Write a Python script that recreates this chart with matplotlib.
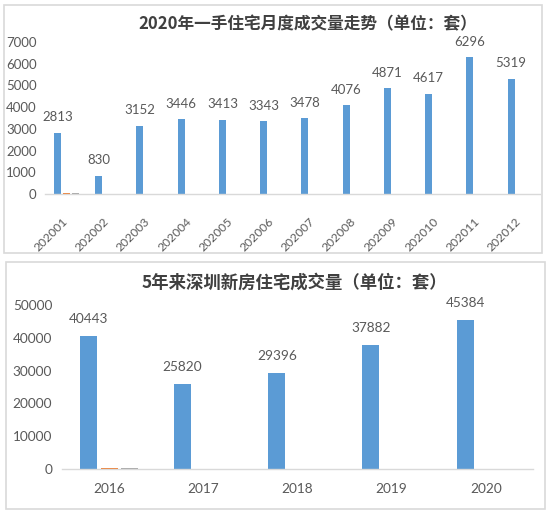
import matplotlib
matplotlib.use("Agg")
import matplotlib.pyplot as plt
from matplotlib.patches import Rectangle
from matplotlib.transforms import ScaledTranslation
import numpy as np

# ---- data ----
months = ["202001", "202002", "202003", "202004", "202005", "202006",
          "202007", "202008", "202009", "202010", "202011", "202012"]
monthly_main = [2813, 830, 3152, 3446, 3413, 3343, 3478, 4076, 4871, 4617, 6296, 5319]
monthly_s2 = [60, 0, 0, 0, 0, 0, 0, 0, 0, 0, 0, 0]
monthly_s3 = [60, 0, 0, 0, 0, 0, 0, 0, 0, 0, 0, 0]
monthly_yticks = [0, 1000, 2000, 3000, 4000, 5000, 6000, 7000]

years = ["2016", "2017", "2018", "2019", "2020"]
yearly_main = [40443, 25820, 29396, 37882, 45384]
yearly_s2 = [450, 0, 0, 0, 0]
yearly_s3 = [400, 0, 0, 0, 0]
yearly_yticks = [0, 10000, 20000, 30000, 40000, 50000]

title1 = "2020年一手住宅月度成交量走势（单位：套）"
title2 = "5年来深圳新房住宅成交量（单位：套）"

BLUE = "#5B9BD5"
ORANGE = "#ED7D31"
GRAY = "#A5A5A5"
TXT = "#595959"
TITLE_C = "#404040"
LINE = "#D9D9D9"

W, H = 550, 529
fig = plt.figure(figsize=(W / 100, H / 100), dpi=100)
fig.patch.set_facecolor("white")

NUM_FONT = ["Lato", "DejaVu Sans"]
CJK_FONT = ["Noto Sans CJK SC", "DejaVu Sans"]


def px_axes(l, t, r, b):
    return fig.add_axes([l / W, 1 - b / H, (r - l) / W, (b - t) / H])


def panel(l, t, r, b):
    fig.patches.append(Rectangle((l / W, 1 - b / H), (r - l) / W, (b - t) / H,
                                 transform=fig.transFigure, fill=False,
                                 edgecolor=LINE, lw=1.2, zorder=0))


def style(ax):
    for s in ["top", "right", "left"]:
        ax.spines[s].set_visible(False)
    ax.spines["bottom"].set_color(LINE)
    ax.spines["bottom"].set_linewidth(1)
    ax.tick_params(length=0, colors=TXT)
    ax.set_facecolor("none")


# ---- panel 1 ----
panel(4, 5, 542, 253)
ax1 = px_axes(45, 42, 540, 194)
x1 = np.arange(len(months))
bw1 = 0.17
ax1.bar(x1 - 0.2, monthly_main, bw1, color=BLUE)
ax1.bar(x1 + 0.02, monthly_s2, bw1, color=ORANGE)
ax1.bar(x1 + 0.24, monthly_s3, bw1, color=GRAY)
ax1.set_xlim(-0.5, len(months) - 0.5)
ax1.set_ylim(0, 7000)
ax1.set_yticks(monthly_yticks)
ax1.set_yticklabels([str(v) for v in monthly_yticks], fontsize=9.5, family=NUM_FONT, color=TXT)
ax1.tick_params(axis="y", pad=6)
ax1.set_xticks(x1)
ax1.set_xticklabels(months, rotation=45, ha="right", va="center", rotation_mode="anchor",
                    fontsize=8.7, family=NUM_FONT, color=TXT)
ax1.tick_params(axis="x", pad=18.5)
for lab in ax1.get_xticklabels():
    lab.set_transform(lab.get_transform() + ScaledTranslation(6 / 100, 0, fig.dpi_scale_trans))
style(ax1)
for xi, v in zip(x1, monthly_main):
    ax1.annotate(str(v), xy=(xi - 0.2, v), xytext=(0, 11.2), textcoords="offset points",
                 ha="center", va="center", fontsize=9.5, family=NUM_FONT, color=TXT)
fig.text(308 / W, 1 - 24 / H, title1, ha="center", va="center", fontsize=12,
         fontweight="bold", family=CJK_FONT, color=TITLE_C)

# ---- panel 2 ----
panel(6, 262, 545, 509)
ax2 = px_axes(62, 305, 533, 469)
x2 = np.arange(len(years))
bw2 = 0.18
ax2.bar(x2 - 0.22, yearly_main, bw2, color=BLUE)
ax2.bar(x2, yearly_s2, bw2, color=ORANGE)
ax2.bar(x2 + 0.22, yearly_s3, bw2, color=GRAY)
ax2.set_xlim(-0.5, len(years) - 0.5)
ax2.set_ylim(0, 50000)
ax2.set_yticks(yearly_yticks)
ax2.set_yticklabels([str(v) for v in yearly_yticks], fontsize=9.8, family=NUM_FONT, color=TXT)
ax2.tick_params(axis="y", pad=7)
ax2.set_xticks(x2)
ax2.set_xticklabels(years, fontsize=9.8, family=NUM_FONT, color=TXT)
ax2.tick_params(axis="x", pad=10)
style(ax2)
for xi, v in zip(x2, yearly_main):
    ax2.annotate(str(v), xy=(xi - 0.22, v), xytext=(0, 12.2), textcoords="offset points",
                 ha="center", va="center", fontsize=9.8, family=NUM_FONT, color=TXT)
fig.text(294 / W, 1 - 283 / H, title2, ha="center", va="center", fontsize=12.5,
         fontweight="bold", family=CJK_FONT, color=TITLE_C)

fig.savefig("out.png", dpi=100, facecolor="white")
